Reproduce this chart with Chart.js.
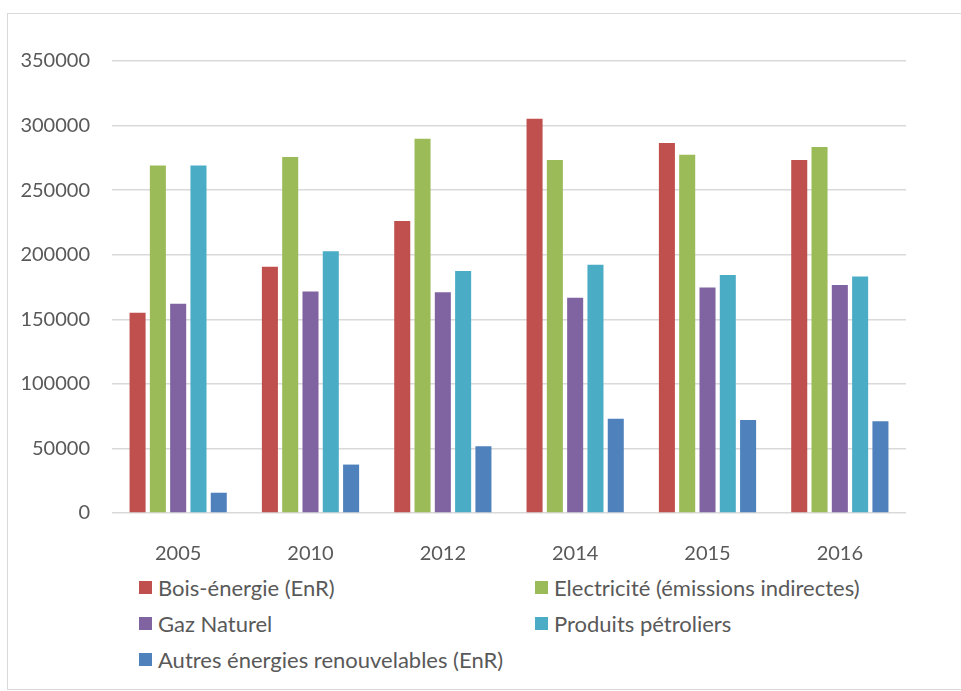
<!DOCTYPE html>
<html>
<head>
<meta charset="utf-8">
<script src="https://cdn.jsdelivr.net/npm/chart.js@4.4.1/dist/chart.umd.min.js"></script>
<style>
  html, body { margin: 0; padding: 0; background: #fff; }
  body { width: 961px; height: 691px; position: relative; overflow: hidden; font-family: Lato, "Open Sans", sans-serif; }
  #frame { position: absolute; left: 7px; top: 13px; width: 1000px; height: 675px; border: 1px solid #d9d9d9; }
  #wrap { position: absolute; left: 0; top: 0; width: 961px; height: 560px; }
  #legend { position: absolute; left: 139px; top: 573px; display: grid;
            grid-template-columns: 396px 400px; row-gap: 7px; font-size: 22px; color: #595959; }
  #legend .item { display: flex; align-items: center; height: 29px; white-space: nowrap; }
  #legend .box { width: 13px; height: 13px; margin-right: 6px; flex: none; }
</style>
</head>
<body>
<div id="frame"></div>
<div id="wrap"><canvas id="chart"></canvas></div>
<div id="legend"></div>
<script>
// years on the x axis
const categories = ['2005', '2010', '2012', '2014', '2015', '2016'];

// values
const boisEnergie = [155000, 190700, 226100, 305200, 286600, 273400];
const electricite = [269000, 275700, 289700, 273400, 277500, 283500];
const gazNaturel = [162000, 171600, 171000, 166700, 174700, 176500];
const produitsPetroliers = [269000, 202600, 187300, 192200, 184200, 183200];
const autresEnR = [15700, 37500, 51700, 72900, 72100, 71100];

const yTicks = [0, 50000, 100000, 150000, 200000, 250000, 300000, 350000];

const series = [
  { label: 'Bois-énergie (EnR)', data: boisEnergie, color: '#c0504d' },
  { label: 'Electricité (émissions indirectes)', data: electricite, color: '#9bbb59' },
  { label: 'Gaz Naturel', data: gazNaturel, color: '#8064a2' },
  { label: 'Produits pétroliers', data: produitsPetroliers, color: '#4bacc6' },
  { label: 'Autres énergies renouvelables (EnR)', data: autresEnR, color: '#4f81bd' },
];

const TEXT = '#595959';
const GRID = '#d9d9d9';
const FONT = { family: 'Lato, "Open Sans", sans-serif', size: 20 };

const chart = new Chart(document.getElementById('chart'), {
  type: 'bar',
  data: {
    labels: categories,
    datasets: series.map((s) => ({
      label: s.label,
      data: s.data,
      backgroundColor: s.color,
      borderWidth: 0,
      categoryPercentage: 0.767,
      barPercentage: 0.79,
    })),
  },
  options: {
    responsive: true,
    maintainAspectRatio: false,
    animation: false,
    layout: { padding: { left: 0, right: 55, top: 61, bottom: 0 } },
    plugins: { legend: { display: false }, tooltip: { enabled: false } },
    scales: {
      x: {
        grid: { display: false },
        border: { display: false },
        ticks: { color: TEXT, font: FONT, padding: 21 },
        afterFit: (s) => { s.height = 47; },
      },
      y: {
        min: 0,
        max: yTicks[yTicks.length - 1],
        afterBuildTicks: (s) => { s.ticks = yTicks.map((v) => ({ value: v })); },
        grid: { color: GRID, lineWidth: 1.5, drawTicks: false },
        border: { display: false },
        ticks: { color: TEXT, font: FONT, padding: 22, callback: (v) => String(v) },
        afterFit: (s) => { s.width = 112; },
      },
    },
  },
});

// two-column legend like the original
const legend = document.getElementById('legend');
chart.data.datasets.forEach((d) => {
  const item = document.createElement('div');
  item.className = 'item';
  const box = document.createElement('span');
  box.className = 'box';
  box.style.background = d.backgroundColor;
  const txt = document.createElement('span');
  txt.textContent = d.label;
  item.appendChild(box);
  item.appendChild(txt);
  legend.appendChild(item);
});
</script>
</body>
</html>
